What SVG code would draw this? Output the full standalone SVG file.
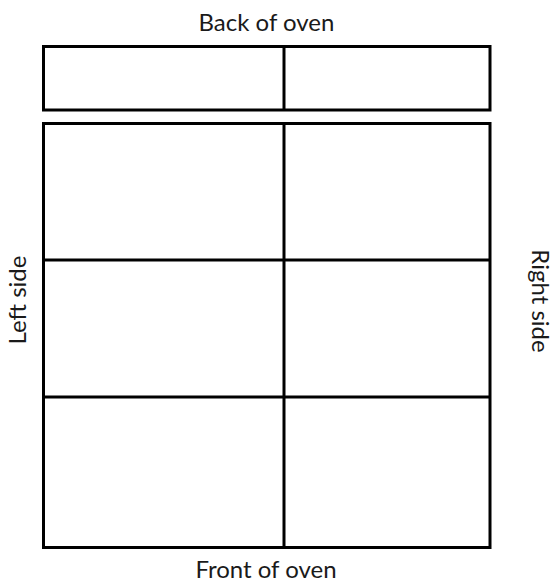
<svg xmlns="http://www.w3.org/2000/svg" width="559" height="582" viewBox="0 0 559 582">
<style>
.ln{fill:none;stroke:#000;stroke-width:3}
.lb{font-family:Lato,"Open Sans","Liberation Sans",sans-serif;font-size:24px;fill:#1a1a1a;text-anchor:middle}
</style>
<rect width="559" height="582" fill="#fff"/>
<g id="back-shelf">
<rect class="ln" x="43.5" y="46.5" width="446.5" height="63.5"/>
<line class="ln" x1="284" y1="46.5" x2="284" y2="110"/>
</g>
<g id="main-grid">
<rect class="ln" x="43.5" y="123.5" width="446.5" height="424"/>
<line class="ln" x1="284" y1="123.5" x2="284" y2="547.5"/>
<line class="ln" x1="43.5" y1="260" x2="490" y2="260"/>
<line class="ln" x1="43.5" y1="397" x2="490" y2="397"/>
</g>
<g id="labels">
<text class="lb" x="266.5" y="31">Back of oven</text>
<text class="lb" x="266" y="578">Front of oven</text>
<text class="lb" transform="translate(26,300) rotate(-90)">Left side</text>
<text class="lb" transform="translate(532,301) rotate(90)">Right side</text>
</g>
</svg>
